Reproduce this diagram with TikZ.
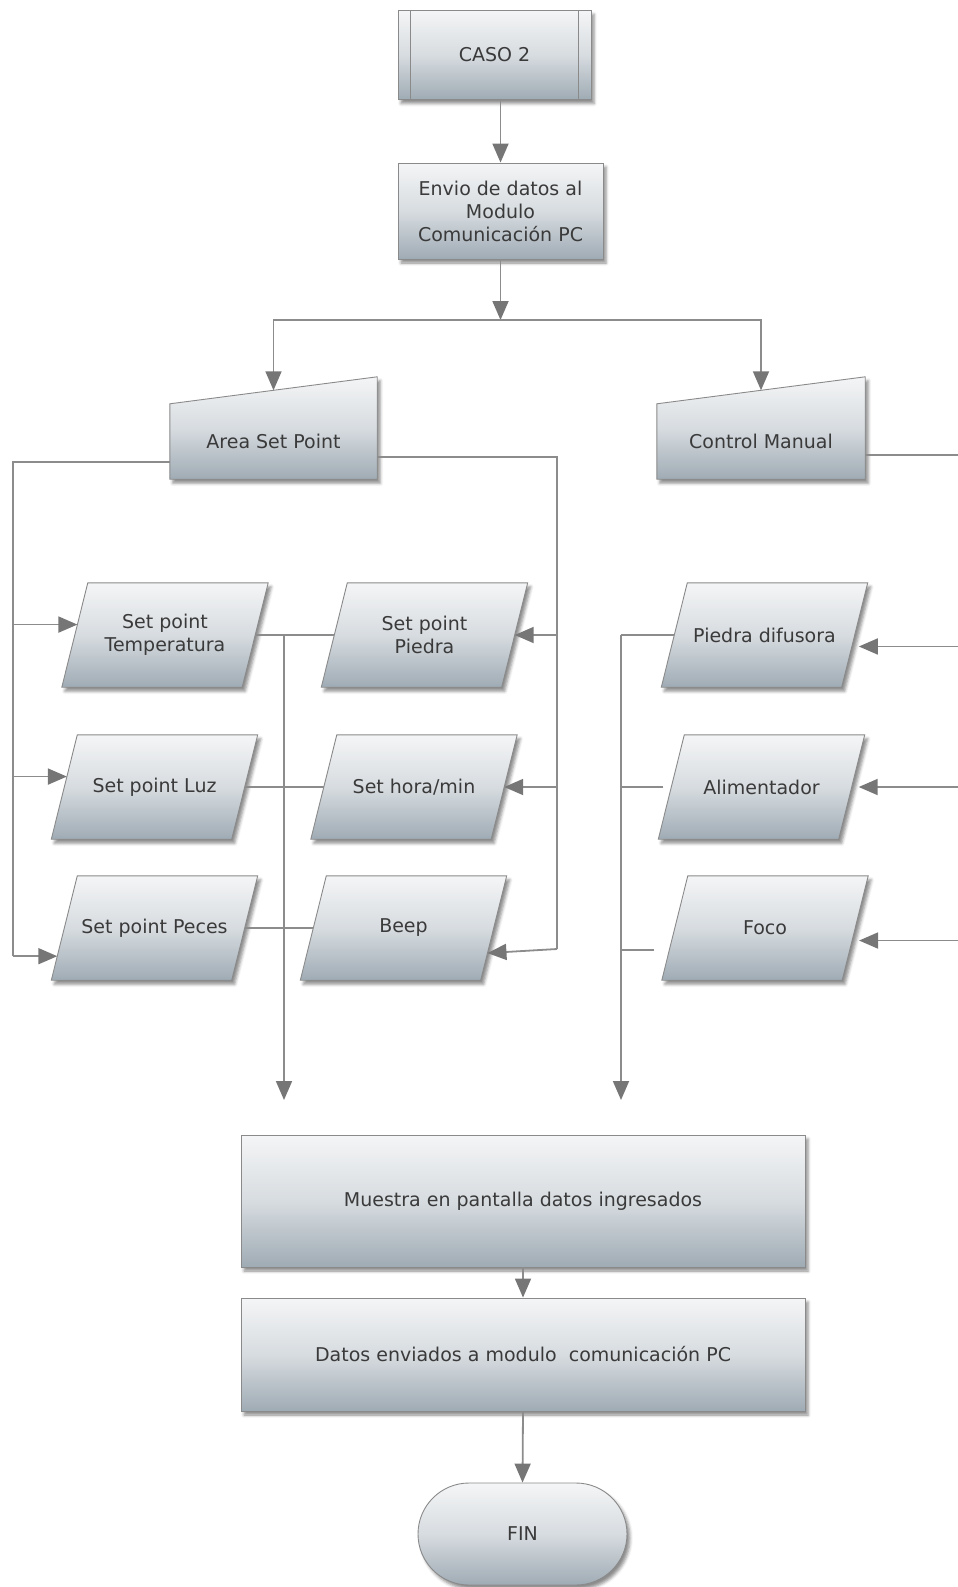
\documentclass[tikz,border=0pt]{standalone}
\usepackage{fontspec}
\setmainfont{DejaVu Sans}
\usetikzlibrary{arrows.meta,calc,shadows.blur}

\definecolor{boxtop}{HTML}{F4F5F6}
\definecolor{boxmid}{HTML}{D7DCE0}
\definecolor{boxbot}{HTML}{9FABB4}
\definecolor{edgegray}{HTML}{8A8A8A}
\definecolor{wiregray}{HTML}{8C8C8C}
\definecolor{tipgray}{HTML}{767676}
\definecolor{inkgray}{HTML}{3A3A3A}

\tikzset{
  boxshade/.style={draw=edgegray, line width=0.9pt,
    top color=boxtop, bottom color=boxbot, middle color=boxmid,
    blur shadow={shadow xshift=3pt, shadow yshift=-4pt,
      shadow blur radius=3pt, shadow opacity=45}},
  labeltext/.style={text=inkgray, font=\fontsize{19}{23}\selectfont, align=center,
    inner sep=0pt},
  procbox/.style={boxshade, labeltext, rectangle},
  slot/.style={rectangle, inner sep=0pt, minimum width=#1, minimum height=104pt},
  slot/.default=180pt,
  wire/.style={draw=wiregray, line width=1.8pt},
  flow/.style={wire, -{Triangle[width=16pt,length=19pt,color=tipgray]}},
}

% data block: parallelogram with slant 26 around a named body node
\newcommand{\databox}[3]{%
  \node[slot] (#1) at (#2) {};
  \coordinate (#1-bl) at ([xshift=-13pt]#1.south west);
  \coordinate (#1-tl) at ([xshift=13pt]#1.north west);
  \coordinate (#1-tr) at ([xshift=13pt]#1.north east);
  \coordinate (#1-br) at ([xshift=-13pt]#1.south east);
  \path[boxshade] (#1-bl) -- (#1-tl) -- (#1-tr) -- (#1-br) -- cycle;
  \coordinate (#1-l) at ($(#1-bl)!0.5!(#1-tl)$);
  \coordinate (#1-r) at ($(#1-br)!0.5!(#1-tr)$);
  \node[labeltext] (#1-text) at (#1.center) {#3};
}

% manual input block: rectangle body with a top edge rising to the right
\newcommand{\manualbox}[4]{%
  \node[rectangle, inner sep=0pt, minimum width=#4, minimum height=75pt] (#1) at (#2) {};
  \path[boxshade] (#1.south west) -- (#1.south east)
    -- ([yshift=27pt]#1.north east) -- (#1.north west) -- cycle;
  \coordinate (#1-in) at ($(#1.north west)!0.5!([yshift=27pt]#1.north east)$);
  \node[labeltext] (#1-text) at (#1.center) {#3};
}

\begin{document}
\begin{tikzpicture}[x=1pt,y=-1pt]
\useasboundingbox (0,0) rectangle (958,1587);
\clip (0,0) rectangle (958,1587);

% start and first process
\node[procbox, minimum width=193pt, minimum height=89pt] (caso) at (494.5,55) {CASO 2};
\draw[edgegray, line width=0.9pt]
  ($(caso.north west)+(13,0)$) -- ($(caso.south west)+(13,0)$)
  ($(caso.north east)+(-13,0)$) -- ($(caso.south east)+(-13,0)$);
\node[procbox, minimum width=205pt, minimum height=96pt] (envio) at (500.5,211)
  {Envio de datos al\\Modulo\\Comunicación PC};

% manual input blocks
\manualbox{asp}{273.5,441.5}{Area Set Point}{207pt}
\manualbox{cm}{761,441.5}{Control Manual}{208pt}

% data blocks
\databox{temp}{165,635}{Set point\\Temperatura}
\databox{luz}{154.5,787}{Set point Luz}
\databox{peces}{154.5,928}{Set point Peces}
\databox{piedra}{424.5,635}{Set point\\Piedra}
\databox{hora}{414,787}{Set hora/min}
\databox{beep}{403.5,928}{Beep}
\databox{pdif}{764.5,635}{Piedra difusora}
\databox{alim}{761.5,787}{Alimentador}
\databox{foco}{765,928}{Foco}

% closing blocks
\node[procbox, minimum width=564pt, minimum height=132pt] (muestra) at (523,1201)
  {Muestra en pantalla datos ingresados};
\node[procbox, minimum width=564pt, minimum height=113pt] (datos) at (523,1354.5)
  {Datos enviados a modulo\ \ comunicación PC};
\node[procbox, rounded corners=51pt, minimum width=209pt, minimum height=102pt] (fin)
  at (522.5,1534) {FIN};

% helper points
\coordinate (split)  at (500.5,320);
\coordinate (lbus)   at (13,462);
\coordinate (rbus)   at (557,457);
\coordinate (rbend)  at (557,949);
\coordinate (cmbus)  at (975,455);
\coordinate (ltrunk) at (284,1100);
\coordinate (rtrunk) at (621,1100);
\coordinate (tA)  at ($(temp-bl)!0.6!(temp-tl)$);
\coordinate (tB)  at ($(luz-bl)!0.6!(luz-tl)$);
\coordinate (tC)  at ($(peces-bl)!0.23!(peces-tl)$);
\coordinate (tBp) at ($(beep-br)!0.26!(beep-tr)$);
\coordinate (fL)  at ($(foco-bl)!0.29!(foco-tl)$);
\coordinate (pR)  at ($(pdif-br)!0.39!(pdif-tr)$);
\coordinate (fR)  at ($(foco-br)!0.38!(foco-tr)$);

% top flow
\draw[flow] (caso.south -| envio.north) -- (envio.north);
\draw[flow] (envio.south) -- (split);
\draw[flow] (split) -| (asp-in);
\draw[flow] (split) -| (cm-in);

% Area Set Point, left branch
\draw[wire] (asp.west |- lbus) -- (lbus) -- (lbus |- tC);
\draw[flow] (lbus |- tA) -- (tA);
\draw[flow] (lbus |- tB) -- (tB);
\draw[flow] (lbus |- tC) -- (tC);

% Area Set Point, right branch
\draw[wire] (asp.east |- rbus) -- (rbus) -- (rbend);
\draw[flow] (rbus |- piedra-r) -- (piedra-r);
\draw[flow] (rbus |- hora-r) -- (hora-r);
\draw[flow] (rbend) -- (tBp);

% set point outputs to the display block
\draw[wire] (temp-r) -- (piedra-l);
\draw[wire] (luz-r) -- (hora-l);
\draw[wire] (peces-r) -- (beep-l);
\draw[flow] (temp-r -| ltrunk) -- (ltrunk);

% Control Manual branch
\draw[wire] (cm.east |- cmbus) -- (cmbus) -- (cmbus |- fR);
\draw[flow, shorten >=7pt] (cmbus |- pR) -- (pR);
\draw[flow, shorten >=7pt] (cmbus |- alim-r) -- (alim-r);
\draw[flow, shorten >=7pt] (cmbus |- fR) -- (fR);

% manual outputs to the display block
\draw[wire] (pdif-l) -- (pdif-l -| rtrunk);
\draw[wire, shorten <=8pt] (alim-l) -- (alim-l -| rtrunk);
\draw[wire, shorten <=15pt] (fL) -- (fL -| rtrunk);
\draw[flow] (pdif-l -| rtrunk) -- (rtrunk);

% closing flow
\draw[flow] (muestra.south) -- (datos.north);
\draw[flow] (datos.south) -- (fin.north);
\end{tikzpicture}
\end{document}
